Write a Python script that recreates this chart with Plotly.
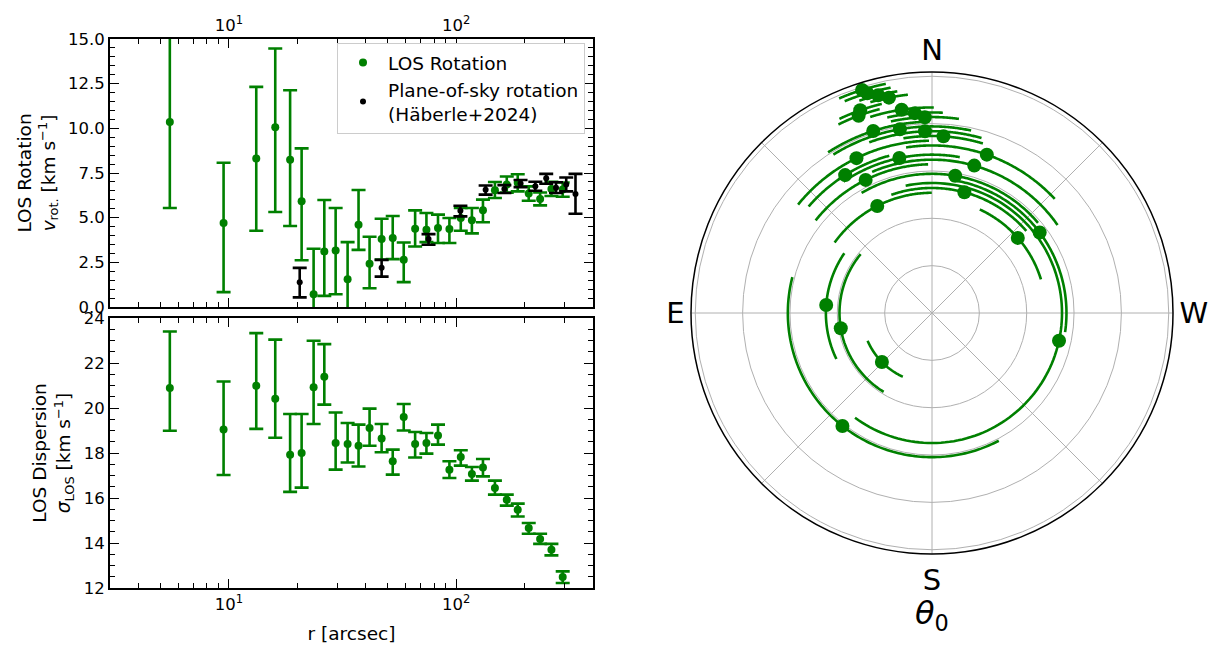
import numpy as np
import plotly.graph_objects as go

GREEN = "#008000"

# ---------------- data ----------------
# radial bins (arcsec)
R_BIN = [5.50, 9.48, 13.2, 16.0, 18.6, 20.9, 23.6, 26.3, 29.5, 33.3, 37.2, 41.6, 47.0, 52.6,
         58.8, 66.0, 74.0, 83.2, 93.4, 104.8, 117.3, 131.2, 148.1, 167.0, 186.6, 208.6,
         234.1, 262.5, 294.3]

# LOS rotation amplitude (km/s) and errors
V_ROT = [10.35, 4.70, 8.31, 10.06, 8.24, 5.92, 0.71, 3.11, 3.16, 1.55, 4.61, 2.42, 3.80, 3.86,
         2.64, 4.38, 4.33, 4.42, 4.36, 4.98, 4.85, 5.41, 6.54, 6.85, 6.95, 6.35, 6.05, 6.61, 6.57]
V_ROT_UP = [5.50, 3.37, 4.01, 4.41, 3.89, 2.96, 2.55, 2.88, 2.38, 2.08, 1.94, 1.51, 1.14, 1.23,
            0.97, 1.03, 0.93, 0.75, 0.62, 0.56, 0.69, 0.60, 0.46, 0.45, 0.48, 0.40, 0.36, 0.40, 0.40]
V_ROT_LO = [4.81, 3.87, 4.04, 4.74, 3.71, 3.30, 2.60, 2.49, 2.45, 2.30, 1.41, 1.37, 1.14, 1.18,
            1.25, 0.99, 0.70, 0.84, 0.78, 0.71, 0.73, 0.67, 0.44, 0.45, 0.48, 0.40, 0.36, 0.40, 0.40]

# plane-of-sky rotation (Häberle+2024)
R_POS = [20.5, 47.0, 75.6, 104.4, 134.8, 163.0, 192.0, 223.0, 249.0, 275.0, 305.0, 335.0]
V_POS = [1.39, 2.19, 3.80, 5.39, 6.56, 6.60, 6.91, 6.76, 7.20, 6.68, 6.85, 6.33]
V_POS_UP = [0.80, 0.45, 0.28, 0.28, 0.24, 0.22, 0.20, 0.25, 0.25, 0.30, 0.40, 1.12]
V_POS_LO = [0.85, 0.49, 0.32, 0.32, 0.27, 0.22, 0.20, 0.25, 0.30, 0.30, 0.38, 1.11]

# LOS dispersion (km/s)
SIG = [20.89, 19.04, 20.99, 20.41, 17.92, 18.00, 20.92, 21.39, 18.44, 18.40, 18.32, 19.11,
       18.64, 17.63, 19.60, 18.40, 18.44, 18.78, 17.26, 17.82, 17.07, 17.35, 16.44, 15.92,
       15.48, 14.67, 14.18, 13.70, 12.49]
SIG_UP = [2.51, 2.14, 2.34, 2.63, 1.81, 1.73, 2.07, 1.45, 1.36, 0.93, 0.94, 0.86, 0.65, 0.52,
          0.58, 0.53, 0.45, 0.48, 0.37, 0.30, 0.31, 0.38, 0.33, 0.23, 0.27, 0.22, 0.23, 0.26, 0.25]
SIG_LO = [1.90, 2.02, 1.92, 1.73, 1.65, 1.54, 1.63, 1.24, 1.18, 0.82, 0.92, 0.79, 0.61, 0.59,
          0.60, 0.60, 0.47, 0.41, 0.37, 0.38, 0.30, 0.39, 0.29, 0.26, 0.30, 0.26, 0.22, 0.25, 0.27]

# rotation axis angle theta_0 (deg, N through E) and its error
THETA0 = [134.4, 99.5, 85.7, 311.2, 27.1, 345.0, 257.7, 306.8, 350.4, 141.6, 26.5, 344.0,
          11.9, 32.2, 340.9, 26.0, 356.3, 2.2, 9.9, 17.9, 2.1, 4.9, 8.5, 20.4, 19.5, 11.3,
          13.9, 16.4, 17.4]
THETA0_ERR = [21, 49, 30, 24, 27, 34, 114, 45, 40, 66, 25, 39, 22, 17, 28, 25, 13, 18, 22,
              15, 10, 8, 9, 6, 6, 5, 5, 6, 6]

X_MAJOR = [10, 100]
X_MAJOR_TXT = ["10<sup>1</sup>", "10<sup>2</sup>"]
X_MINOR = [3, 4, 5, 6, 7, 8, 9, 20, 30, 40, 50, 60, 70, 80, 90, 200, 300, 400]
COMPASS_VALS = [0, 45, 90, 135, 180, 225, 270, 315]
COMPASS_TXT = ["N", "", "E", "", "S", "", "W", ""]
RADIAL_GRID = [10 ** 0.5, 10, 10 ** 1.5, 100, 10 ** 2.5]

FONT = "DejaVu Sans"
W, H = 1222, 647
OFF = 8  # page body offset in px


def px_x(a, b):
    return [(a - OFF) / W, (b - OFF) / W]


def px_y(top, bottom):
    return [(H - (bottom - OFF)) / H, (H - (top - OFF)) / H]


fig = go.Figure()

# ---------------- top panel ----------------
fig.add_trace(go.Scatter(
    x=R_BIN, y=V_ROT, mode="markers", name="LOS Rotation",
    marker=dict(color=GREEN, size=8),
    error_y=dict(type="data", array=V_ROT_UP, arrayminus=V_ROT_LO, color=GREEN,
                 thickness=2.6, width=7),
    xaxis="x", yaxis="y"))
fig.add_trace(go.Scatter(
    x=R_POS, y=V_POS, mode="markers", name="Plane-of-sky rotation<br>(Häberle+2024)",
    marker=dict(color="black", size=6),
    error_y=dict(type="data", array=V_POS_UP, arrayminus=V_POS_LO, color="black",
                 thickness=2.6, width=7),
    xaxis="x", yaxis="y"))

# ---------------- bottom panel ----------------
fig.add_trace(go.Scatter(
    x=R_BIN, y=SIG, mode="markers", showlegend=False,
    marker=dict(color=GREEN, size=8),
    error_y=dict(type="data", array=SIG_UP, arrayminus=SIG_LO, color=GREEN,
                 thickness=2.6, width=7),
    xaxis="x2", yaxis="y2"))

# ---------------- polar panel ----------------
for r, th, err in zip(R_BIN, THETA0, THETA0_ERR):
    arc = np.linspace(th - err, th + err, 120)
    fig.add_trace(go.Scatterpolar(
        r=[r] * len(arc), theta=arc, mode="lines", showlegend=False,
        line=dict(color=GREEN, width=2.6), hoverinfo="skip", subplot="polar"))
fig.add_trace(go.Scatterpolar(
    r=R_BIN, theta=THETA0, mode="markers", showlegend=False,
    marker=dict(color=GREEN, size=14), subplot="polar"))

axis_common = dict(showline=True, linecolor="black", linewidth=1.8, mirror="allticks",
                   ticks="inside", ticklen=9, tickwidth=1.4, tickcolor="black",
                   showgrid=False, zeroline=False, automargin=False,
                   tickfont=dict(family=FONT, size=16.5, color="black"))
minor_common = dict(ticks="inside", ticklen=5, tickwidth=1.1, tickcolor="black",
                    showgrid=False)
TITLE_FONT = dict(family=FONT, size=18.5, color="black")

xr = [np.log10(3.0), np.log10(400.0)]
XDOM = px_x(110, 593)
fig.update_layout(
    width=W, height=H, autosize=False,
    margin=dict(l=0, r=0, t=0, b=0, pad=0),
    paper_bgcolor="white", plot_bgcolor="white",
    font=dict(family=FONT, color="black"),
    xaxis=dict(type="log", range=xr, domain=XDOM, anchor="y", side="top",
               tickmode="array", tickvals=X_MAJOR, ticktext=X_MAJOR_TXT,
               minor=dict(tickmode="array", tickvals=X_MINOR, **minor_common),
               **axis_common),
    xaxis2=dict(type="log", range=xr, domain=XDOM, anchor="y2", side="bottom",
                tickmode="array", tickvals=X_MAJOR, ticktext=X_MAJOR_TXT,
                minor=dict(tickmode="array", tickvals=X_MINOR, **minor_common),
                title=dict(text="r [arcsec]", font=TITLE_FONT, standoff=14),
                **axis_common),
    yaxis=dict(range=[0, 15], domain=px_y(39, 307), anchor="x",
               dtick=2.5, tick0=0, tickformat=".1f",
               minor=dict(dtick=0.5, **minor_common),
               title=dict(text="LOS Rotation<br><i>v</i><sub>rot.</sub> [km s<sup>−1</sup>]",
                          font=TITLE_FONT, standoff=8),
               **axis_common),
    yaxis2=dict(range=[12, 24], domain=px_y(318, 588), anchor="x2",
                dtick=2, tick0=12,
                minor=dict(dtick=0.5, **minor_common),
                title=dict(text="LOS Dispersion<br><i>σ</i><sub>LOS</sub> [km s<sup>−1</sup>]",
                           font=TITLE_FONT, standoff=8),
                **axis_common),
    legend=dict(x=(585 - OFF) / W, xanchor="right", y=(H - (43 - OFF)) / H, yanchor="top",
                bgcolor="white", bordercolor="#cccccc", borderwidth=1,
                itemwidth=40, tracegroupgap=4,
                font=dict(family=FONT, size=18.5, color="black")),
    polar=dict(
        domain=dict(x=px_x(691, 1173), y=px_y(72, 554)),
        bgcolor="white",
        angularaxis=dict(rotation=90, direction="counterclockwise",
                         tickmode="array", tickvals=COMPASS_VALS, ticktext=COMPASS_TXT,
                         showline=True, linecolor="black", linewidth=1.5,
                         gridcolor="#b0b0b0", gridwidth=1, ticks="",
                         tickfont=dict(family=FONT, size=29, color="black")),
        radialaxis=dict(type="log", range=[0, 2.545], tickmode="array",
                        tickvals=RADIAL_GRID, showticklabels=False, ticks="",
                        showline=False, gridcolor="#b0b0b0", gridwidth=1),
    ),
    annotations=[dict(text="<i>θ</i><sub>0</sub>", x=(932 - OFF) / W,
                      y=(H - (615 - OFF)) / H, xref="paper", yref="paper",
                      xanchor="center", yanchor="middle", showarrow=False,
                      font=dict(family=FONT, size=32, color="black"))],
)

fig.write_html("out.html")
